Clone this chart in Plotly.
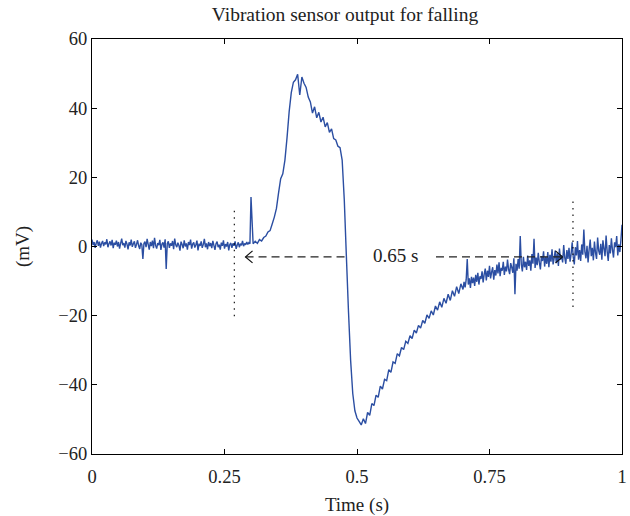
import plotly.graph_objects as go

# ---- data ----
DT_FINE = 0.002
DT_MID = 0.004
# baseline before the fall, sampled every 2 ms from 0.000 s
baseline_mv = [
    2.0, 0.4, 1.3, -0.4, 1.0, 1.8, 0.2, 1.4, -0.3, 0.9, 1.6, 0.1, 1.2, 0.6, 2.1,
    -0.2, 0.8, 1.5, 0.3, 1.9, -0.5, 1.1, 0.5, 1.7, 0.0, 1.3, -0.6, 0.9, 2.3, 0.4,
    1.0, -0.3, 1.6, 0.7, -0.8, 1.2, 0.3, 2.0, -0.1, 0.8, 1.5, -0.4, 0.6, 1.8, 0.2,
    -0.7, 1.1, 0.5, -3.6, 0.9, 1.4, -0.2, 2.2, 0.6, -0.9, 1.3, 0.1, 1.7, -0.5, 2.5,
    0.3, -0.6, 1.0, 0.4, 1.9, -1.0, 0.7, 1.2, -0.3, 2.1, -6.5, 0.8, 1.5, -0.4, 0.9,
    0.2, 1.6, -0.8, 2.3, 0.5, -0.2, 1.1, 0.3, -1.2, 1.4, 0.6, -0.5, 1.8, 0.0, 0.9,
    -0.9, 1.3, 0.4, 2.0, -0.6, 0.7, 1.2, -0.3, 0.5, 1.7, -1.1, 0.8, 0.2, 1.5, -0.4,
    0.6, 2.2, -0.2, 0.9, -0.8, 1.3, 0.1, 1.0, -0.5, 1.6, 0.3, -1.0, 0.8, 1.4, -0.2,
    0.5, -0.9, 1.1, 0.2, 1.8, -0.6, 0.7, 0.0, 1.3, -1.1, 0.6, 1.0, -0.4, 0.9, 0.2,
    1.5, -0.7, 0.4, 1.2, -0.2, 0.8, 0.3, 1.6, 0.1, 0.9, 0.5, 1.3, 0.6, 1.1, 0.8,
]
# fall event, sampled every 4 ms from 0.300 s
event_mv = [
    14.3, 0.8, 1.5, 0.9, 2.0, 1.6, 2.6, 3.0, 4.2, 4.6,
    6.5, 8.5, 11.0, 15.5, 19.6, 21.0, 25.0, 31.5, 39.0, 44.5,
    47.5, 48.2, 49.8, 43.8, 49.0, 47.2, 46.0, 43.2, 41.8, 38.6,
    40.4, 37.2, 38.8, 36.0, 37.4, 34.6, 35.8, 33.0, 34.0, 31.2,
    30.8, 29.0, 28.6, 25.0, 13.5, -3.0, -19.0, -33.0, -42.5, -47.5,
    -49.6, -50.6, -51.6, -49.8, -51.2, -48.0, -48.8, -45.4, -46.0, -43.0,
    -43.6, -40.4, -41.2, -38.4, -38.8, -35.6, -36.4, -33.4, -33.8, -31.0,
    -31.6, -29.2, -29.8, -27.4, -28.0, -25.8, -26.6, -24.2, -25.0, -22.8,
    -23.6, -21.4, -22.2, -19.8, -20.8, -18.6, -19.8, -17.2, -18.4, -16.0,
    -17.6, -15.0, -16.4, -13.8, -15.6, -12.8, -14.4, -11.6, -13.6, -10.8,
]
# recovery tail, sampled every 2 ms from 0.700 s
tail_mv = [
    -12.4, -10.2, -11.8, -9.6, -3.6, -11.0, -9.2, -12.0, -8.8, -10.6,
    -9.0, -11.4, -8.2, -10.2, -7.6, -11.0, -8.6, -9.4, -7.2, -10.4,
    -8.0, -6.4, -9.8, -7.0, -8.8, -5.6, -9.2, -7.4, -6.0, -9.6,
    -6.8, -8.4, -5.2, -7.8, -4.6, -8.6, -6.2, -7.0, -4.4, -8.2,
    -5.8, -7.2, -3.8, -6.6, -8.0, -4.8, -6.0, -7.6, -3.4, -13.8,
    -5.0, -7.0, -3.6, -6.4, 3.0, -5.2, -7.2, -3.0, -6.0, -4.4,
    -6.8, -2.6, -5.6, -4.0, -7.0, -2.2, -5.0, 2.2, -6.2, -3.2,
    -5.4, -1.8, -4.6, -6.6, -2.8, -4.2, -1.4, -5.8, -3.0, -5.0,
    -1.6, -6.0, -2.4, -4.4, -0.8, -5.2, -3.4, -1.2, -4.8, -2.0,
    -5.6, -0.6, -3.8, -2.6, -4.6, 0.4, -3.2, -5.0, -1.0, -3.6,
    -0.4, -4.4, -2.2, 1.2, -3.0, -5.2, -0.2, -2.6, 1.6, -3.8,
    -1.0, -4.2, 0.6, -2.4, 4.9, -1.6, -3.4, 0.2, -4.6, -0.8,
    2.0, -2.8, -0.4, -4.0, 1.4, -1.8, -3.6, 2.6, -1.2, -2.4,
    0.8, -3.8, 1.8, -0.6, -2.8, 3.2, -1.4, -4.2, 0.4, -2.0,
    2.4, -1.0, -3.2, 1.2, -0.2, 3.0, -2.6, 0.6, -1.6, 2.0,
    6.3,
]
baseline_start, event_start, tail_start = 0.0, 0.300, 0.700

time_s = ([round(baseline_start + i * DT_FINE, 3) for i in range(len(baseline_mv))]
          + [round(event_start + i * DT_MID, 3) for i in range(len(event_mv))]
          + [round(tail_start + i * DT_FINE, 3) for i in range(len(tail_mv))])
signal_mv = baseline_mv + event_mv + tail_mv

x_tick_vals = [0, 0.25, 0.5, 0.75, 1]
x_tick_text = ["0", "0.25", "0.5", "0.75", "1"]
y_tick_vals = [-60, -40, -20, 0, 20, 40, 60]

# annotation geometry (data units)
marker_times = [0.2685, 0.9075]
marker_span = [[-20.2, 11.4], [-17.5, 13.7]]
arrow_y = -3.0
arrow_left = [0.2897, 0.485]
arrow_right = [0.649, 0.8877]
label_x = 0.5726
label_text = "0.65 s"

SERIF = "Liberation Serif"
TEXT = "#222222"
LINE_BLUE = "#2b4ea2"

fig = go.Figure()
fig.add_trace(go.Scatter(
    x=time_s, y=signal_mv, mode="lines",
    line=dict(color=LINE_BLUE, width=1.4, simplify=False),
    showlegend=False, hoverinfo="skip",
))

for t, (y0, y1) in zip(marker_times, marker_span):
    fig.add_shape(type="line", x0=t, x1=t, y0=y0, y1=y1, xref="x", yref="y",
                  line=dict(color="black", width=1.1, dash="1.5px,5px"))

for seg in (arrow_left, arrow_right):
    fig.add_shape(type="line", x0=seg[0], x1=seg[1], y0=arrow_y, y1=arrow_y,
                  xref="x", yref="y",
                  line=dict(color=TEXT, width=1.2, dash="8px,5px"))

fig.add_shape(type="path", xref="x", yref="y", xsizemode="pixel", ysizemode="pixel",
              xanchor=arrow_left[0], yanchor=arrow_y,
              path="M 7,6 L 0,0 L 7,-6", line=dict(color="#111111", width=1.2))
fig.add_shape(type="path", xref="x", yref="y", xsizemode="pixel", ysizemode="pixel",
              xanchor=arrow_right[1], yanchor=arrow_y,
              path="M -7,6 L 0,0 L -7,-6", line=dict(color="#111111", width=1.2))

fig.add_annotation(x=label_x, y=arrow_y, text=label_text, showarrow=False,
                   xref="x", yref="y", font=dict(family=SERIF, size=19, color=TEXT),
                   yshift=1)

axis_common = dict(
    showline=True, linecolor="black", linewidth=1, mirror="allticks",
    ticks="inside", ticklen=5, tickwidth=1, tickcolor="black",
    showgrid=False, zeroline=False, automargin=False,
    ticklabeloverflow="allow",
    tickfont=dict(family=SERIF, size=18.5, color=TEXT),
)

fig.update_layout(
    width=630, height=516,
    margin=dict(l=92, r=8, t=39, b=62),
    paper_bgcolor="white", plot_bgcolor="white",
    title=dict(text="Vibration sensor output for falling", x=0.5476, xanchor="center",
               xref="container", y=0.972, yanchor="middle", yref="container",
               font=dict(family=SERIF, size=19.5, color=TEXT)),
    xaxis=dict(range=[0, 1], tickvals=x_tick_vals, ticktext=x_tick_text,
               ticklabelstandoff=6,
               title=dict(text="Time (s)", font=dict(family=SERIF, size=19, color=TEXT),
                          standoff=12),
               **axis_common),
    yaxis=dict(range=[-60, 60], tickvals=y_tick_vals,
               title=dict(text="(mV)", font=dict(family=SERIF, size=19, color=TEXT),
                          standoff=23),
               **axis_common),
)

# remove the browser's default page margin so the figure fills the window
fig.write_html(
    "out.html",
    config={"displayModeBar": False, "staticPlot": True},
    post_script="document.body.style.margin='0';document.body.style.overflow='hidden';",
)
